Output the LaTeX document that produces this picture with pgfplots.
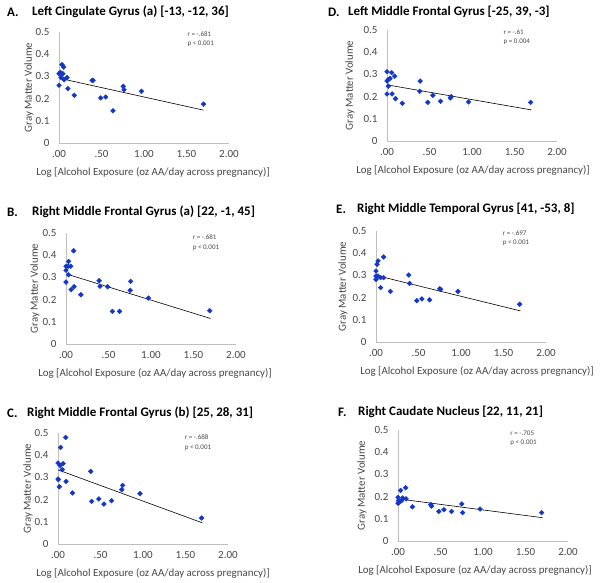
\documentclass[border=0pt]{standalone}
\usepackage{fontspec}
\setmainfont{Carlito}
\usepackage{pgfplots}
\usetikzlibrary{calc}
\pgfplotsset{compat=1.18}
\definecolor{mk}{RGB}{20,55,200}
\definecolor{axgray}{RGB}{191,191,191}
\definecolor{txtgray}{RGB}{70,70,70}
\pgfplotsset{
  panel/.style={
    scale only axis, width=170pt, height=111pt,
    xmin=0, xmax=2, ymin=0, ymax=0.5,
    axis x line=bottom, axis y line=left,
    axis line style={-, axgray, line width=0.8pt},
    major tick length=0pt,
    xtick={0,0.5,1,1.5,2}, xticklabels={.00,.50,1.00,1.50,2.00},
    ytick={0,0.1,0.2,0.3,0.4,0.5}, yticklabels={0,0.1,0.2,0.3,0.4,0.5},
    tick label style={font=\fontsize{11}{13}\selectfont, text=txtgray},
    xticklabel style={yshift=-4pt},
    yticklabel style={xshift=-6pt},
    xlabel={Log [Alcohol Exposure (oz AA/day across pregnancy)]},
    ylabel={Gray Matter Volume},
    label style={font=\fontsize{10.9}{13}\selectfont, text=txtgray},
    clip=false, anchor=south west,
  },
  pts/.style={only marks, mark=square*, mark size=1.7pt, mark options={rotate=45, draw=mk, fill=mk}},
  fit/.style={black, line width=0.6pt, no marks},
}
\newcommand{\xl}[1]{xlabel style={at={($(axis description cs:0.5,0)+(#1,-29pt)$)}, anchor=center}}
\newcommand{\yl}[1]{ylabel style={at={($(axis description cs:0,0.5)+(-#1,0)$)}, anchor=center, rotate=0}}
\newcommand{\rp}[3]{\node[anchor=west, font=\fontsize{7}{8}\selectfont, text=txtgray, inner sep=0pt] at (axis cs:#1,#2) {#3};}
\begin{document}
\begin{tikzpicture}
\path[use as bounding box] (0,0) rectangle (600pt,-582pt);
\tikzset{ttl/.style={anchor=west, inner sep=0pt, font=\bfseries\fontsize{13}{15}\selectfont}}
% Titles
\node[ttl] at (7pt,-12pt) {A.};
\node[ttl] at (32pt,-12pt) {Left Cingulate Gyrus (a) [-13, -12, 36]};
\node[ttl] at (328pt,-12pt) {D.};
\node[ttl] at (348pt,-12pt) {Left Middle Frontal Gyrus [-25, 39, -3]};
\node[ttl] at (7pt,-212pt) {B.};
\node[ttl] at (32pt,-212pt) {Right Middle Frontal Gyrus (a) [22, -1, 45]};
\node[ttl] at (336pt,-209pt) {E.};
\node[ttl] at (357pt,-209pt) {Right Middle Temporal Gyrus [41, -53, 8]};
\node[ttl] at (7pt,-413pt) {C.};
\node[ttl] at (27pt,-413pt) {Right Middle Frontal Gyrus (b) [25, 28, 31]};
\node[ttl] at (338pt,-412pt) {F.};
\node[ttl] at (358pt,-412pt) {Right Caudate Nucleus [22, 11, 21]};

% A
\begin{axis}[panel, at={(59pt,-143pt)}, \xl{9pt}, \yl{30pt}]
\addplot[pts] coordinates {
(0.035,0.353) (0.055,0.342) (0.00,0.312) (0.015,0.318) (0.045,0.312)
(0.00,0.260) (0.025,0.295) (0.06,0.285) (0.095,0.295) (0.105,0.245)
(0.18,0.215) (0.39,0.282) (0.40,0.282) (0.49,0.203) (0.55,0.207)
(0.635,0.145) (0.756,0.255) (0.765,0.240) (0.97,0.233) (1.70,0.175)};
\addplot[fit] coordinates {(0,0.292) (1.70,0.148)};
\rp{1.51}{0.49}{r = -.681}
\rp{1.51}{0.445}{p < 0.001}
\end{axis}

% D
\begin{axis}[panel, at={(387pt,-141pt)}, \xl{1pt}, \yl{37pt}]
\addplot[pts] coordinates {
(0.00,0.312) (0.055,0.308) (0.09,0.292) (0.035,0.282) (0.015,0.277)
(0.00,0.270) (0.015,0.247) (0.00,0.212) (0.06,0.212) (0.10,0.191)
(0.18,0.170) (0.39,0.270) (0.385,0.224) (0.48,0.174) (0.54,0.206)
(0.63,0.179) (0.745,0.194) (0.756,0.200) (0.96,0.176) (1.69,0.174)};
\addplot[fit] coordinates {(0,0.253) (1.70,0.140)};
\rp{1.37}{0.49}{r = -.61}
\rp{1.37}{0.445}{p = 0.004}
\end{axis}

% B
\begin{axis}[panel, at={(66pt,-344pt)}, \xl{4pt}, \yl{31pt}]
\addplot[pts] coordinates {
(0.09,0.420) (0.03,0.372) (0.00,0.350) (0.025,0.350) (0.055,0.350)
(0.00,0.332) (0.03,0.312) (0.00,0.279) (0.06,0.245) (0.095,0.258)
(0.175,0.222) (0.39,0.285) (0.40,0.260) (0.49,0.258) (0.545,0.147)
(0.63,0.147) (0.76,0.282) (0.755,0.242) (0.97,0.207) (1.69,0.150)};
\addplot[fit] coordinates {(0,0.316) (1.70,0.115)};
\rp{1.49}{0.48}{r = -.681}
\rp{1.49}{0.435}{p < 0.001}
\end{axis}

% E
\begin{axis}[panel, at={(376pt,-342pt)}, \xl{16pt}, \yl{33pt}]
\addplot[pts] coordinates {
(0.09,0.383) (0.024,0.365) (0.012,0.350) (0.00,0.320) (0.00,0.297)
(0.00,0.282) (0.024,0.297) (0.055,0.290) (0.09,0.290) (0.055,0.245)
(0.17,0.228) (0.385,0.302) (0.395,0.264) (0.48,0.186) (0.54,0.194)
(0.63,0.190) (0.75,0.240) (0.76,0.237) (0.965,0.228) (1.69,0.170)};
\addplot[fit] coordinates {(0,0.300) (1.70,0.140)};
\rp{1.49}{0.49}{r = -.697}
\rp{1.49}{0.445}{p < 0.001}
\end{axis}

% C
\begin{axis}[panel, at={(58pt,-544pt)}, \xl{10pt}, \yl{30pt}]
\addplot[pts] coordinates {
(0.09,0.480) (0.03,0.435) (0.00,0.365) (0.06,0.362) (0.024,0.354)
(0.05,0.335) (0.00,0.293) (0.005,0.290) (0.095,0.282) (0.016,0.258)
(0.17,0.230) (0.385,0.327) (0.395,0.192) (0.48,0.203) (0.54,0.180)
(0.63,0.195) (0.76,0.264) (0.75,0.245) (0.965,0.227) (1.69,0.117)};
\addplot[fit] coordinates {(0,0.334) (1.70,0.095)};
\rp{1.49}{0.48}{r = -.688}
\rp{1.49}{0.435}{p < 0.001}
\end{axis}

% F
\begin{axis}[panel, at={(398pt,-541pt)}, \xl{-8pt}, \yl{36pt}]
\addplot[pts] coordinates {
(0.09,0.240) (0.03,0.228) (0.00,0.197) (0.005,0.182) (0.00,0.170)
(0.016,0.174) (0.043,0.182) (0.055,0.194) (0.095,0.190) (0.17,0.154)
(0.385,0.164) (0.395,0.157) (0.48,0.133) (0.54,0.141) (0.63,0.133)
(0.75,0.167) (0.76,0.128) (0.965,0.144) (1.69,0.128)};
\addplot[fit] coordinates {(0,0.190) (1.70,0.105)};
\rp{1.32}{0.487}{r = -.705}
\rp{1.32}{0.442}{p < 0.001}
\end{axis}
\end{tikzpicture}
\end{document}
